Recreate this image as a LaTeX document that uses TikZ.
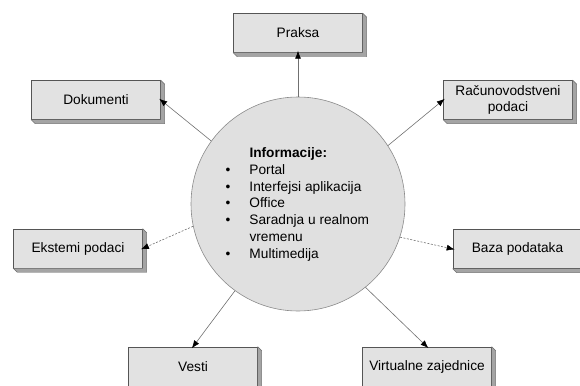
\documentclass[tikz,border=0pt]{standalone}
\usepackage{fontspec}
\setmainfont{Liberation Sans}
\usetikzlibrary{calc,arrows.meta}

\definecolor{boxfill}{HTML}{E2E2E2}
\definecolor{boxedge}{HTML}{555555}
\definecolor{bevelfill}{HTML}{A4A4A4}
\definecolor{beveledge}{HTML}{6E6E6E}
\definecolor{hubfill}{HTML}{E0E0E0}
\definecolor{hubedge}{HTML}{8A8A8A}
\definecolor{linkgray}{HTML}{707070}

% raised edge on the right and bottom of a box
\newcommand\bevelbox[1]{%
  \filldraw[fill=bevelfill, draw=beveledge, line width=0.4pt]
    (#1.north east) -- ($(#1.north east)+(4pt,-4pt)$)
    -- ($(#1.south east)+(4pt,-4pt)$) -- ($(#1.south west)+(4pt,-4pt)$)
    -- (#1.south west) -- (#1.south east) -- cycle;}

\begin{document}
\begin{tikzpicture}[x=1pt, y=-1pt,
  txt/.style={font=\fontsize{13.7}{16.8}\selectfont},
  topic/.style={txt, draw=boxedge, fill=boxfill, line width=0.5pt,
    minimum width=129pt, minimum height=39pt, inner sep=0pt, align=center},
  hub/.style={circle, draw=hubedge, fill=hubfill, line width=0.6pt,
    minimum size=214pt, inner sep=0pt},
  link/.style={draw=linkgray, line width=0.6pt,
    -{Latex[length=8pt, width=6pt, color=black]}, shorten >=-2pt},
  dotlink/.style={link, dash pattern=on 2pt off 1.5pt}]

\useasboundingbox (0,0) rectangle (580,385);

% central circle with its list
\node[hub] (c) at (298,204) {};
\node[txt, anchor=base west, inner sep=0pt] (info) at (225.5,157.5) {%
  \begin{tabular}[t]{@{}l@{\hspace{19pt}}l@{}}
    & \textbf{Informacije:}\\
    \textbullet & Portal\\
    \textbullet & Interfejsi aplikacija\\
    \textbullet & Office\\
    \textbullet & Saradnja u realnom\\
    & vremenu\\
    \textbullet & Multimedija
  \end{tabular}};

% surrounding topics
\node[topic] (praksa) at (298,33)    {Praksa};
\node[topic] (dok)    at (96,100)    {Dokumenti};
\node[topic] (rac)    at (508,100)   {Računovodstveni\\podaci};
\node[topic] (eks)    at (78,248.5)  {Ekstemi podaci};
\node[topic] (baza)   at (517.5,249) {Baza podataka};
\node[topic] (vesti)  at (193,366.5) {Vesti};
\node[topic] (virt)   at (427,366.5) {Virtualne zajednice};

\foreach \b in {praksa,dok,rac,eks,baza,vesti,virt} {\bevelbox{\b}}

% connectors from the circle
\draw[link]    (c.90)   -- (praksa.south);
\draw[link]    (c.144)  -- (dok.east);
\draw[link]    (c.33.5) -- (rac.west);
\draw[dotlink] (c.192)  -- (eks.east);
\draw[dotlink] (c.-18)  -- (baza.west);
\draw[link]    (c.234)  -- (vesti.north);
\draw[link]    (c.-51)  -- (virt.north);
\end{tikzpicture}
\end{document}
